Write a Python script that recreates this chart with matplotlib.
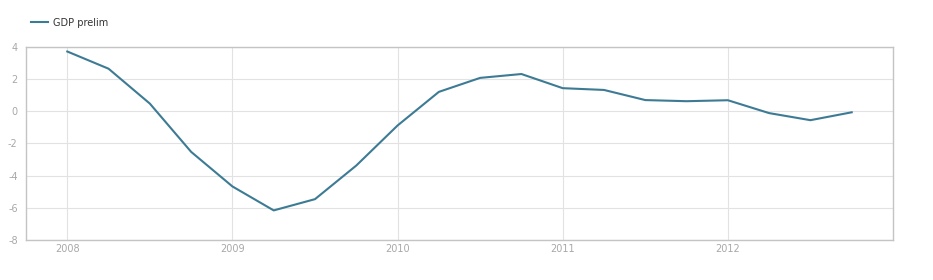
import numpy as np
from matplotlib import pyplot as plt

# Quarterly GDP growth (prelim), 2008Q1 .. 2012Q4
quarters = np.arange(2008, 2013, 0.25)
gdp_prelim = [3.72, 2.65, 0.48, -2.52, -4.67,
              -6.16, -5.46, -3.37, -0.88, 1.21,
              2.08, 2.32, 1.44, 1.33, 0.70,
              0.63, 0.69, -0.11, -0.55, -0.06]
year_ticks = [2008, 2009, 2010, 2011, 2012]
y_ticks = [-8, -6, -4, -2, 0, 2, 4]

line_color = '#3d7b95'
grid_color = '#e2e2e2'
text_color = '#a8a8a8'

plt.rcParams['axes.unicode_minus'] = False

fig = plt.figure(figsize=(9.33, 2.8), dpi=100)
ax = fig.add_axes([26 / 933, 1 - 240 / 280, 867 / 933, 193 / 280])

ax.plot(quarters, gdp_prelim, color=line_color, linewidth=1.5,
        label='GDP prelim')

ax.set_xlim(2007.75, 2013.0)
ax.set_ylim(-8, 4)
ax.set_xticks(year_ticks)
ax.set_xticklabels([str(y) for y in year_ticks])
ax.set_yticks(y_ticks)

ax.grid(True, color=grid_color, linewidth=0.8)
ax.set_axisbelow(True)
ax.tick_params(length=0, labelsize=7, colors=text_color, pad=3)
ax.tick_params(axis='y', pad=6)
for s in ax.spines.values():
    s.set_color('#c4c4c4')
    s.set_linewidth(1.0)

fig.legend(loc='upper left', bbox_to_anchor=(22 / 933, 1 - 9 / 280),
           frameon=False, fontsize=7, handlelength=1.8, handletextpad=0.5,
           labelcolor='#333333')

plt.savefig('out.png', dpi=100)
